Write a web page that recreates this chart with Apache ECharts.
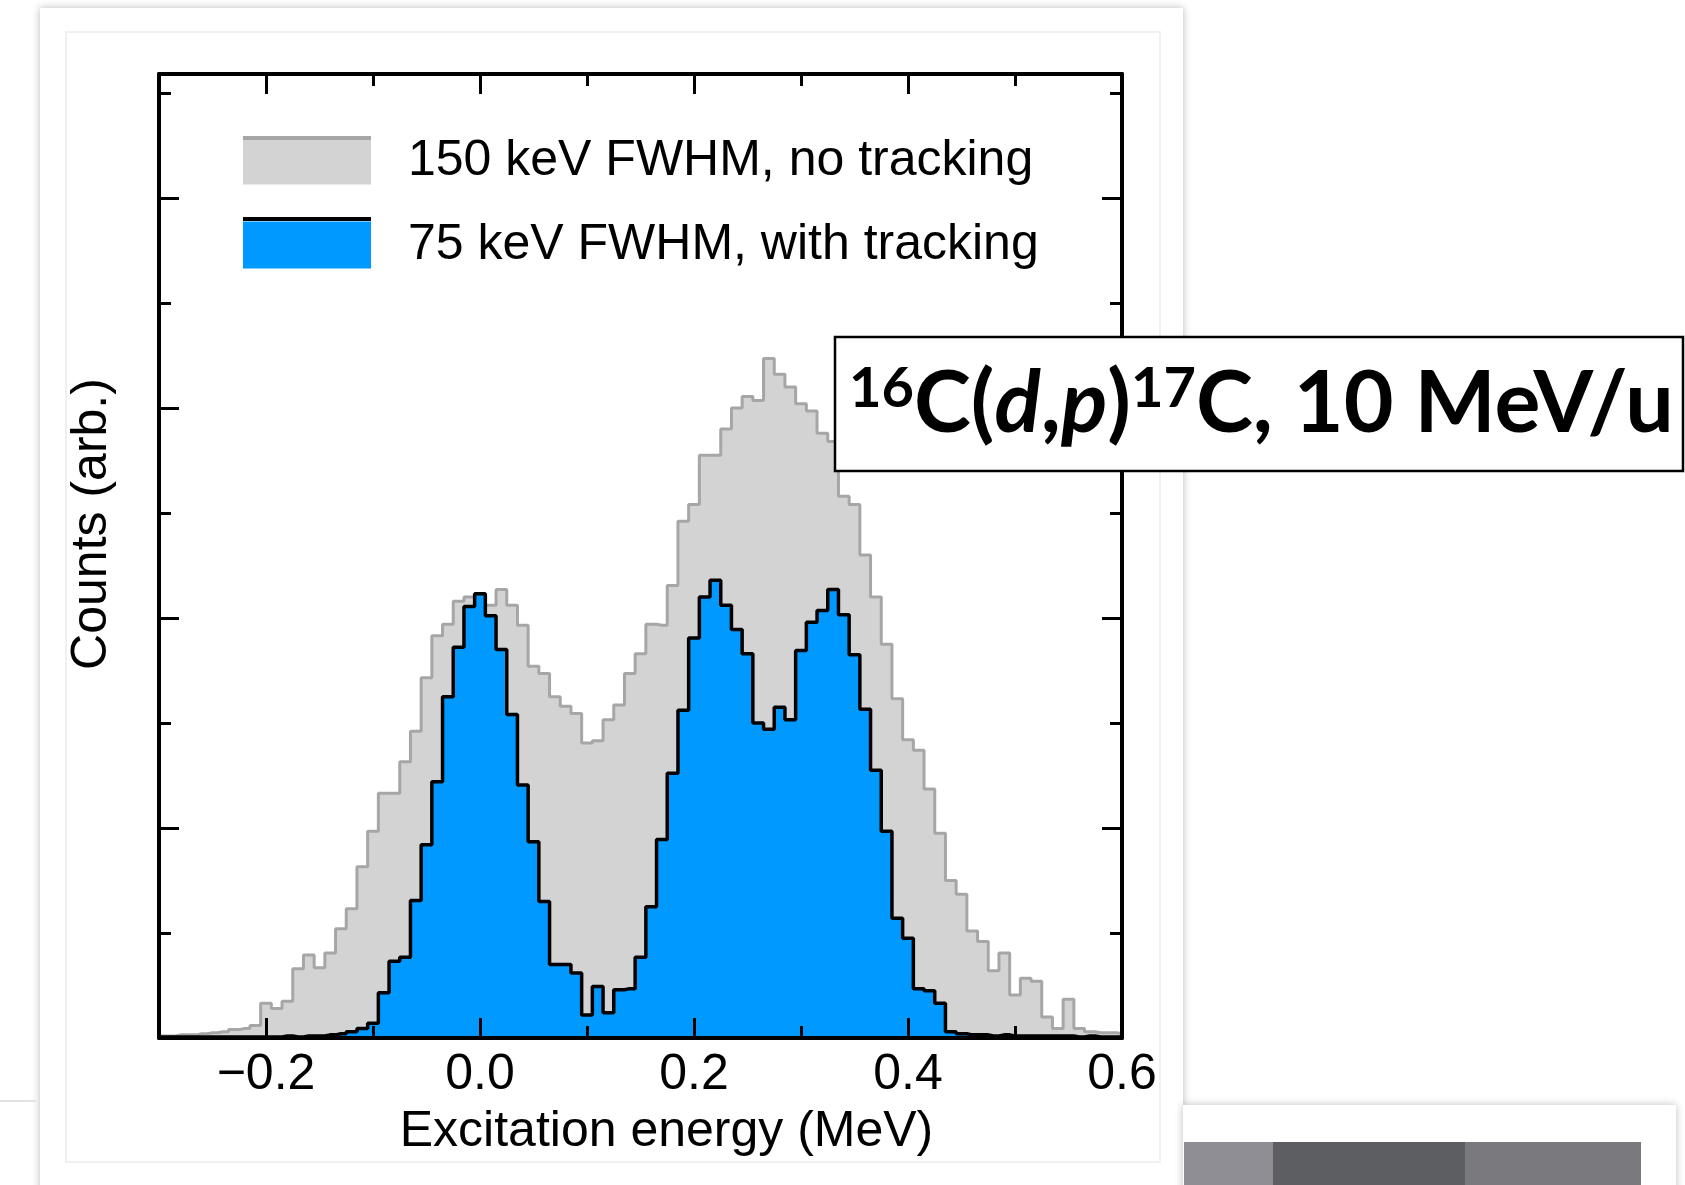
<!DOCTYPE html>
<html>
<head>
<meta charset="utf-8">
<script src="https://cdn.jsdelivr.net/npm/echarts@6/dist/echarts.min.js"></script>
<style>
  html, body { margin: 0; padding: 0; background: #ffffff; }
  #chart { width: 1685px; height: 1185px; }
</style>
</head>
<body>
<div id="chart"></div>
<script>
// ---- data ----
const binCenters = [
  -0.30,-0.29,-0.28,-0.27,-0.26,-0.25,-0.24,-0.23,-0.22,-0.21,
  -0.20,-0.19,-0.18,-0.17,-0.16,-0.15,-0.14,-0.13,-0.12,-0.11,
  -0.10,-0.09,-0.08,-0.07,-0.06,-0.05,-0.04,-0.03,-0.02,-0.01,
   0.00, 0.01, 0.02, 0.03, 0.04, 0.05, 0.06, 0.07, 0.08, 0.09,
   0.10, 0.11, 0.12, 0.13, 0.14, 0.15, 0.16, 0.17, 0.18, 0.19,
   0.20, 0.21, 0.22, 0.23, 0.24, 0.25, 0.26, 0.27, 0.28, 0.29,
   0.30, 0.31, 0.32, 0.33, 0.34, 0.35, 0.36, 0.37, 0.38, 0.39,
   0.40, 0.41, 0.42, 0.43, 0.44, 0.45, 0.46, 0.47, 0.48, 0.49,
   0.50, 0.51, 0.52, 0.53, 0.54, 0.55, 0.56, 0.57, 0.58, 0.59,
   0.60
];
const noTracking150 = [
  2,2,3,3,4,5,6,8,9,12,
  33,28,35,66,79,67,81,104,123,163,
  197,233,233,263,292,343,383,394,416,420,
  415,412,427,412,393,354,347,325,316,309,
  281,283,303,317,347,366,394,393,431,492,
  508,555,555,580,600,611,607,647,632,620,
  604,597,576,568,516,508,460,420,375,323,
  284,274,237,195,150,137,102,92,64,81,
  41,57,54,20,9,37,9,6,5,5,
  4
];
const withTracking75 = [
  1,1,1,1,1,1,1,1,1,1,
  1,1,2,1,2,2,3,4,6,9,
  14,43,73,77,131,184,244,325,372,411,
  423,402,370,308,241,187,130,70,70,62,
  22,49,24,46,47,77,125,189,252,312,
  381,420,436,412,389,366,300,294,315,303,
  369,396,407,427,403,365,313,255,197,114,
  95,47,45,33,6,4,3,3,2,3,
  2,2,2,2,2,2,1,2,1,1,
  1
];
const seriesNames = ['150 keV FWHM, no tracking', '75 keV FWHM, with tracking'];
const xMajorTicks = [-0.2, 0.0, 0.2, 0.4, 0.6];
const xMinorTicks = [-0.1, 0.1, 0.3, 0.5];
const yMajorTicks = [200, 400, 600, 800];
const yMinorTicks = [100, 300, 500, 700, 900];
const xTitle = 'Excitation energy (MeV)';
const yTitle = 'Counts (arb.)';

// ---- chart ----
const FONT = '"Liberation Sans", "DejaVu Sans", sans-serif';
const BOXFONT = 'Lato, "Open Sans", sans-serif';
const X_MIN = -0.3, X_MAX = 0.6, Y_MIN = 0, Y_MAX = 918;

function fmtX(v) {
  const s = Math.abs(v).toFixed(1);
  return v < -1e-9 ? '\u2212' + s : s;
}

function xAx(pos, ticks, len, showLine, extra) {
  return Object.assign({
    type: 'value', min: X_MIN, max: X_MAX, position: pos, z: 10,
    axisLine: { show: showLine, onZero: false, lineStyle: { color: '#000', width: 4 } },
    axisTick: { show: true, inside: true, length: len, customValues: ticks,
                lineStyle: { color: '#000', width: 3 } },
    axisLabel: { show: false },
    splitLine: { show: false }
  }, extra || {});
}
function yAx(pos, ticks, len, showLine, extra) {
  return Object.assign({
    type: 'value', min: Y_MIN, max: Y_MAX, position: pos, z: 10,
    axisLine: { show: showLine, onZero: false, lineStyle: { color: '#000', width: 4 } },
    axisTick: { show: true, inside: true, length: len, customValues: ticks,
                lineStyle: { color: '#000', width: 3 } },
    axisLabel: { show: false },
    splitLine: { show: false }
  }, extra || {});
}

const chart = echarts.init(document.getElementById('chart'), null, { renderer: 'canvas' });

const option = {
  animation: false,
  backgroundColor: '#ffffff',
  grid: { left: 159, top: 74, right: 563, bottom: 147, containLabel: false },
  legend: {
    orient: 'vertical', left: 243, top: 136, padding: 0,
    itemWidth: 128, itemHeight: 47, itemGap: 34,
    icon: 'rect',
    itemStyle: { borderWidth: 0 },
    textStyle: { fontSize: 50, color: '#000', fontFamily: FONT, lineHeight: 47,
                 padding: [0, 0, 0, 32] },
    data: seriesNames,
    selectedMode: false
  },
  xAxis: [
    xAx('bottom', xMajorTicks, 20, true, {
      axisLabel: { show: true, customValues: xMajorTicks, formatter: fmtX,
                   fontSize: 50, color: '#000', fontFamily: FONT, margin: 12 },
      name: xTitle, nameLocation: 'middle', nameGap: 69,
      nameTextStyle: { fontSize: 50, color: '#000', fontFamily: FONT, padding: [0, 0, 0, 52] }
    }),
    xAx('bottom', xMinorTicks, 12, false),
    xAx('top', xMajorTicks, 20, true),
    xAx('top', xMinorTicks, 12, false)
  ],
  yAxis: [
    yAx('left', yMajorTicks, 20, true, {
      name: yTitle, nameLocation: 'middle', nameGap: 42,
      nameTextStyle: { fontSize: 50, color: '#000', fontFamily: FONT, padding: [0, 0, 0, 64] }
    }),
    yAx('left', yMinorTicks, 12, false),
    yAx('right', yMajorTicks, 20, true),
    yAx('right', yMinorTicks, 12, false)
  ],
  series: [
    {
      name: seriesNames[0], type: 'line', step: 'middle',
      xAxisIndex: 0, yAxisIndex: 0,
      data: binCenters.map((x, i) => [x, noTracking150[i]]),
      showSymbol: false, symbol: 'none', color: '#d3d3d3',
      lineStyle: { color: '#a6a6a6', width: 3 },
      areaStyle: { color: '#d3d3d3', opacity: 1 },
      z: 2
    },
    {
      name: seriesNames[1], type: 'line', step: 'middle',
      xAxisIndex: 0, yAxisIndex: 0,
      data: binCenters.map((x, i) => [x, withTracking75[i]]),
      showSymbol: false, symbol: 'none', color: '#0099ff',
      lineStyle: { color: '#000000', width: 3.5 },
      areaStyle: { color: '#0099ff', opacity: 1 },
      z: 3
    }
  ],
  graphic: [
    // slide card behind the figure
    { type: 'rect', z: 0, silent: true,
      shape: { x: 40, y: 8, width: 1143, height: 1300 },
      style: { fill: '#ffffff', shadowBlur: 8, shadowColor: 'rgba(0,0,0,0.28)' } },
    { type: 'rect', z: 0, silent: true,
      shape: { x: 66, y: 32, width: 1094, height: 1130 },
      style: { fill: 'none', stroke: '#f0f0f0', lineWidth: 2 } },
    { type: 'line', z: 0, silent: true,
      shape: { x1: 0, y1: 1101, x2: 36, y2: 1101 },
      style: { stroke: '#e2e2e2', lineWidth: 2 } },
    // neighbouring card at bottom right
    { type: 'rect', z: 0, silent: true,
      shape: { x: 1183, y: 1105, width: 493, height: 200 },
      style: { fill: '#ffffff', shadowBlur: 8, shadowColor: 'rgba(0,0,0,0.25)' } },
    { type: 'rect', z: 1, silent: true,
      shape: { x: 1184, y: 1142, width: 89, height: 60 }, style: { fill: '#8e8e94' } },
    { type: 'rect', z: 1, silent: true,
      shape: { x: 1273, y: 1142, width: 192, height: 60 }, style: { fill: '#5d5e62' } },
    { type: 'rect', z: 1, silent: true,
      shape: { x: 1465, y: 1142, width: 176, height: 60 }, style: { fill: '#7a7a7e' } },
    // legend swatch top edges
    { type: 'rect', z: 20, silent: true,
      shape: { x: 243, y: 136, width: 128, height: 4 }, style: { fill: '#a6a6a6' } },
    { type: 'rect', z: 20, silent: true,
      shape: { x: 243, y: 217, width: 128, height: 4 }, style: { fill: '#000000' } },
    // reaction label box
    { type: 'rect', z: 100, silent: true,
      shape: { x: 835, y: 337, width: 848, height: 134 },
      style: { fill: '#ffffff', stroke: '#000000', lineWidth: 2.5 } },
    { type: 'text', z: 101, silent: true, x: 849, y: 404,
      style: {
        text: '{s|16}{n|C(}{i|d}{n|,}{i|p}{n|)}{s|17}{n|C, 10 MeV/u}',
        align: 'left', verticalAlign: 'middle',
        rich: {
          n: { fontSize: 86, fontWeight: 'bold', fontFamily: BOXFONT, fill: '#000', verticalAlign: 'bottom' },
          i: { fontSize: 86, fontWeight: 'bold', fontStyle: 'italic', fontFamily: BOXFONT, fill: '#000', verticalAlign: 'bottom' },
          s: { fontSize: 56, fontWeight: 'bold', fontFamily: BOXFONT, fill: '#000', verticalAlign: 'top' }
        }
      } }
  ]
};
chart.setOption(option);
</script>
</body>
</html>
